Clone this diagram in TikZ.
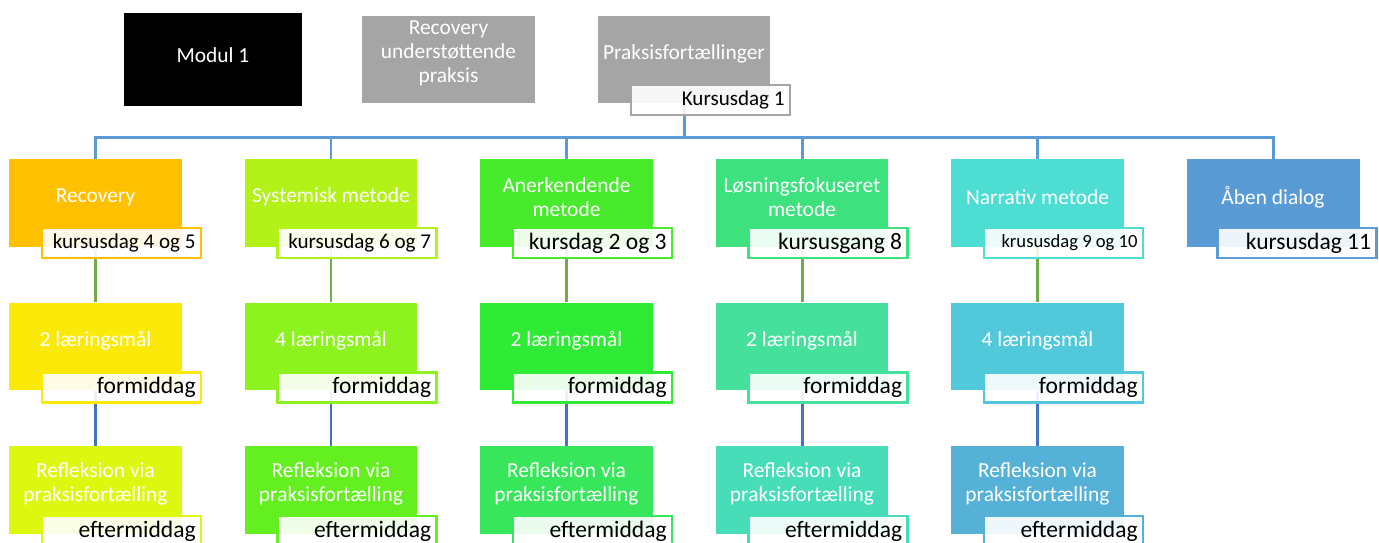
\documentclass[tikz,border=0pt]{standalone}
\usepackage{fontspec}
\setmainfont{Carlito}
\usetikzlibrary{positioning,calc}
\definecolor{Gray}{HTML}{A5A5A5}
\definecolor{TopLine}{HTML}{5B9BD5}
\definecolor{MidLine}{HTML}{70AD47}
\definecolor{LowLine}{HTML}{4472C4}
% row 1
\definecolor{RecA}{HTML}{FFC000}
\definecolor{SysA}{HTML}{B3F219}
\definecolor{AnkA}{HTML}{48EB2C}
\definecolor{LosA}{HTML}{3DE27F}
\definecolor{NarA}{HTML}{4EDDD3}
\definecolor{AabA}{HTML}{5B9BD5}
% row 2
\definecolor{RecB}{HTML}{FBE90A}
\definecolor{SysB}{HTML}{8DF31E}
\definecolor{AnkB}{HTML}{2FEB35}
\definecolor{LosB}{HTML}{45E19C}
\definecolor{NarB}{HTML}{52C9DA}
% row 3
\definecolor{RecC}{HTML}{DDF70F}
\definecolor{SysC}{HTML}{63EF20}
\definecolor{AnkC}{HTML}{37E65A}
\definecolor{LosC}{HTML}{47DDB9}
\definecolor{NarC}{HTML}{56B1D7}

\tikzset{
  box/.style={rectangle,minimum width=3.46cm,minimum height=1.76cm,inner sep=0pt},
  boxtext/.style={text=white,align=center,inner sep=0pt,font=\fontsize{12.2}{13.8}\selectfont},
  day/.style={rectangle,anchor=south east,fill=white,fill opacity=0.9,text opacity=1,
    line width=1.4pt,minimum height=0.6cm,inner ysep=0pt,inner xsep=0.11cm,
    text width=2.96cm,align=flush right,text=black,font=\fontsize{12}{14}\selectfont},
  daybig/.style={day,font=\fontsize{13.4}{16}\selectfont},
  daysmall/.style={day,font=\fontsize{10.6}{13}\selectfont},
  topline/.style={TopLine,line width=1.7pt},
  midline/.style={MidLine,line width=1.7pt},
  lowline/.style={LowLine,line width=1.7pt}
}

\begin{document}
\begin{tikzpicture}[x=0.02cm,y=-0.02cm]
\useasboundingbox (0,0) rectangle (1379,543);
% top
\node[box,fill=black,minimum width=3.56cm,minimum height=1.86cm] (modul) at (213,59.5) {};
\node[boxtext] (modulT) at ([yshift=0.09cm]modul.center) {Modul 1};
\node[box,fill=Gray,minimum height=1.74cm] (recup) at (448.5,59.5) {};
\node[boxtext] (recupT) at ([yshift=0.12cm]recup.center) {Recovery\\understøttende\\praksis};
\node[box,fill=Gray,minimum width=3.44cm,minimum height=1.74cm] (prak) at (684,59.5) {};
\node[boxtext] (prakT) at ([yshift=0.12cm]prak.center) {Praksisfortællinger};
% row 1
\node[box,fill=RecA] (rec) at (95.5,203) {};
\node[box,fill=SysA] (sys) at (331,203) {};
\node[box,fill=AnkA] (ank) at (566.5,203) {};
\node[box,fill=LosA] (los) at (802,203) {};
\node[box,fill=NarA] (nar) at (1037.5,203) {};
\node[box,fill=AabA] (aab) at (1273,203) {};
\node[boxtext] (recT) at ([yshift=0.12cm]rec.center) {Recovery};
\node[boxtext] (sysT) at ([yshift=0.12cm]sys.center) {Systemisk metode};
\node[boxtext] (ankT) at ([yshift=0.12cm]ank.center) {Anerkendende\\metode};
\node[boxtext] (losT) at ([yshift=0.12cm]los.center) {Løsningsfokuseret\\metode};
\node[boxtext] (narT) at ([yshift=0.12cm]nar.center) {Narrativ metode};
\node[boxtext] (aabT) at ([yshift=0.12cm]aab.center) {Åben dialog};
% row 2
\node[box,fill=RecB] (recF) at (95.5,346.5) {};
\node[box,fill=SysB] (sysF) at (331,346.5) {};
\node[box,fill=AnkB] (ankF) at (566.5,346.5) {};
\node[box,fill=LosB] (losF) at (802,346.5) {};
\node[box,fill=NarB] (narF) at (1037.5,346.5) {};
\node[boxtext] (recFT) at ([yshift=0.12cm]recF.center) {2 læringsmål};
\node[boxtext] (sysFT) at ([yshift=0.12cm]sysF.center) {4 læringsmål};
\node[boxtext] (ankFT) at ([yshift=0.12cm]ankF.center) {2 læringsmål};
\node[boxtext] (losFT) at ([yshift=0.12cm]losF.center) {2 læringsmål};
\node[boxtext] (narFT) at ([yshift=0.12cm]narF.center) {4 læringsmål};
% row 3
\node[box,fill=RecC] (recE) at (95.5,490) {};
\node[box,fill=SysC] (sysE) at (331,490) {};
\node[box,fill=AnkC] (ankE) at (566.5,490) {};
\node[box,fill=LosC] (losE) at (802,490) {};
\node[box,fill=NarC] (narE) at (1037.5,490) {};
\node[boxtext] (recET) at ([yshift=0.12cm]recE.center) {Refleksion via\\praksisfortælling};
\node[boxtext] (sysET) at ([yshift=0.12cm]sysE.center) {Refleksion via\\praksisfortælling};
\node[boxtext] (ankET) at ([yshift=0.12cm]ankE.center) {Refleksion via\\praksisfortælling};
\node[boxtext] (losET) at ([yshift=0.12cm]losE.center) {Refleksion via\\praksisfortælling};
\node[boxtext] (narET) at ([yshift=0.12cm]narE.center) {Refleksion via\\praksisfortælling};
% connectors
\draw[topline] (prak.south) -- ++(0,34) -| (rec.north);
\draw[topline] (prak.south) -- ++(0,34) -| (sys.north);
\draw[topline] (prak.south) -- ++(0,34) -| (ank.north);
\draw[topline] (prak.south) -- ++(0,34) -| (los.north);
\draw[topline] (prak.south) -- ++(0,34) -| (nar.north);
\draw[topline] (prak.south) -- ++(0,34) -| (aab.north);
\draw[midline] (rec.south) -- (recF.north);
\draw[midline] (sys.south) -- (sysF.north);
\draw[midline] (ank.south) -- (ankF.north);
\draw[midline] (los.south) -- (losF.north);
\draw[midline] (nar.south) -- (narF.north);
\draw[lowline] (recF.south) -- (recE.north);
\draw[lowline] (sysF.south) -- (sysE.north);
\draw[lowline] (ankF.south) -- (ankE.north);
\draw[lowline] (losF.south) -- (losE.north);
\draw[lowline] (narF.south) -- (narE.north);
% day labels
\node[day,draw=Gray] (prakD) at ([xshift=0.42cm,yshift=-0.26cm]prak.south east) {Kursusdag 1};
\node[day,draw=RecA] (recD) at ([xshift=0.4cm,yshift=-0.24cm]rec.south east) {kursusdag 4 og 5};
\node[day,draw=SysA] (sysD) at ([xshift=0.4cm,yshift=-0.24cm]sys.south east) {kursusdag 6 og 7};
\node[daybig,draw=AnkA] (ankD) at ([xshift=0.4cm,yshift=-0.24cm]ank.south east) {kursdag 2 og 3};
\node[daybig,draw=LosA] (losD) at ([xshift=0.4cm,yshift=-0.24cm]los.south east) {kursusgang 8};
\node[daysmall,draw=NarA] (narD) at ([xshift=0.4cm,yshift=-0.24cm]nar.south east) {krususdag 9 og 10};
\node[daybig,draw=AabA] (aabD) at ([xshift=0.36cm,yshift=-0.24cm]aab.south east) {kursusdag 11};
\node[daybig,draw=RecB] (recFD) at ([xshift=0.4cm,yshift=-0.26cm]recF.south east) {formiddag};
\node[daybig,draw=SysB] (sysFD) at ([xshift=0.4cm,yshift=-0.26cm]sysF.south east) {formiddag};
\node[daybig,draw=AnkB] (ankFD) at ([xshift=0.4cm,yshift=-0.26cm]ankF.south east) {formiddag};
\node[daybig,draw=LosB] (losFD) at ([xshift=0.4cm,yshift=-0.26cm]losF.south east) {formiddag};
\node[daybig,draw=NarB] (narFD) at ([xshift=0.4cm,yshift=-0.26cm]narF.south east) {formiddag};
\node[daybig,draw=RecC] (recED) at ([xshift=0.4cm,yshift=-0.26cm]recE.south east) {eftermiddag};
\node[daybig,draw=SysC] (sysED) at ([xshift=0.4cm,yshift=-0.26cm]sysE.south east) {eftermiddag};
\node[daybig,draw=AnkC] (ankED) at ([xshift=0.4cm,yshift=-0.26cm]ankE.south east) {eftermiddag};
\node[daybig,draw=LosC] (losED) at ([xshift=0.4cm,yshift=-0.26cm]losE.south east) {eftermiddag};
\node[daybig,draw=NarC] (narED) at ([xshift=0.4cm,yshift=-0.26cm]narE.south east) {eftermiddag};
\end{tikzpicture}
\end{document}
